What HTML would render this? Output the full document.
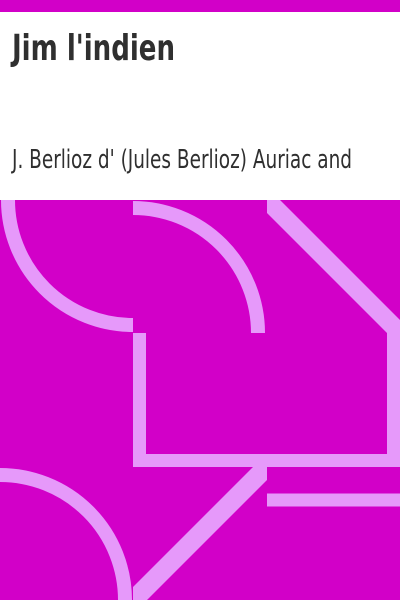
<!DOCTYPE html>
<html><head><meta charset="utf-8"><style>
html,body{margin:0;padding:0;background:#fff;}
svg{display:block;}
</style></head><body>
<svg width="400" height="600" viewBox="0 0 400 600">
<rect x="0" y="0" width="400" height="12" fill="#d200c8"/>
<text x="12" y="60" font-family="DejaVu Sans, Liberation Sans, sans-serif" font-weight="bold" font-stretch="condensed" font-size="36" fill="#2f2f2f" textLength="163" lengthAdjust="spacingAndGlyphs">Jim l'indien</text>
<text x="12" y="168" font-family="DejaVu Sans, Liberation Sans, sans-serif" font-stretch="condensed" font-size="26" fill="#2f2f2f" textLength="340" lengthAdjust="spacingAndGlyphs">J. Berlioz d' (Jules Berlioz) Auriac and</text>
<g>
<rect x="0" y="200" width="400" height="400" fill="#d200c8"/>
<g fill="none" stroke="#e699fa" stroke-width="14" stroke-linecap="butt">
<path d="M8,200 A125,125 0 0 0 133,325"/>
<path d="M133,208 A125,125 0 0 1 258,333"/>
<path d="M0,475 A125,125 0 0 1 125,600"/>
<path d="M267,500 L400,500" stroke-width="13"/>
</g>
<polygon fill="#e699fa" points="267,200 280,200 400,320 400,467 133,467 133,333 146,333 146,454 387,454 387,333 267,213"/>
<polygon fill="#e699fa" points="253,467 267,467 267,480 147,600 133,600 133,587"/>
</g>
</svg>
</body></html>
